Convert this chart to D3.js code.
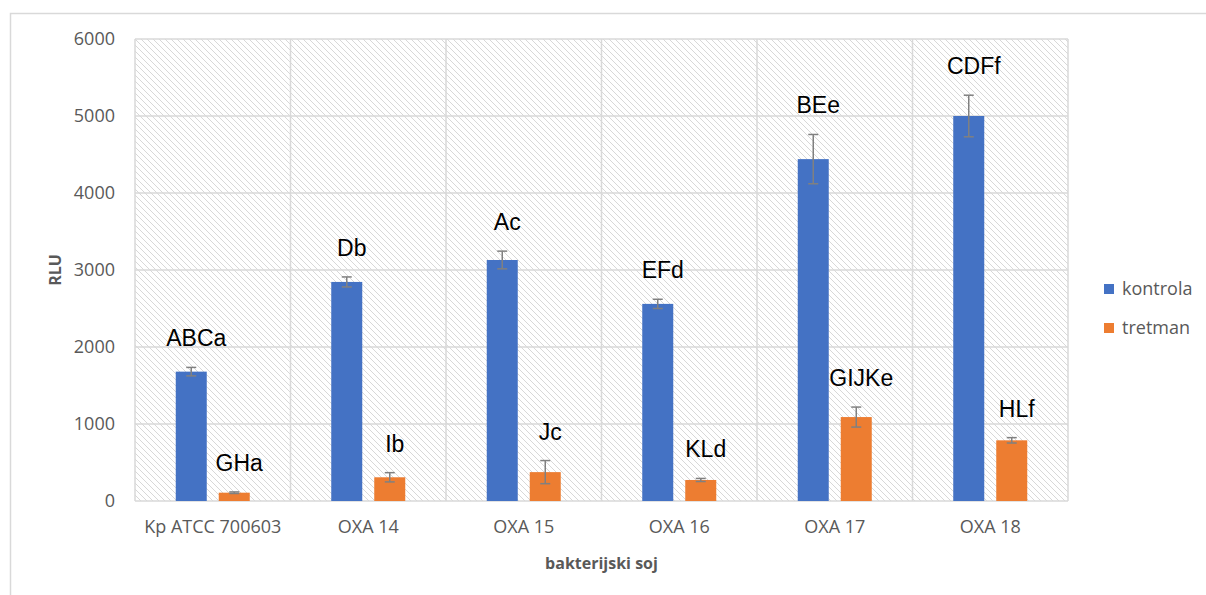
<!DOCTYPE html>
<html><head><meta charset="utf-8">
<script src="https://cdn.jsdelivr.net/npm/d3@7"></script>
<style>body{margin:0;background:#fff}svg{display:block}</style>
</head><body>
<script>
const categories = ["Kp ATCC 700603","OXA 14","OXA 15","OXA 16","OXA 17","OXA 18"];
const seriesNames = ["kontrola","tretman"];
const kontrola = [1680, 2845, 3130, 2560, 4440, 5000];
const kontrolaErr = [55, 65, 115, 60, 320, 270];
const tretman = [108, 308, 375, 273, 1090, 788];
const tretmanErr = [10, 60, 150, 20, 130, 35];
const kontrolaLabels = ["ABCa","Db","Ac","EFd","BEe","CDFf"];
const tretmanLabels = ["GHa","Ib","Jc","KLd","GIJKe","HLf"];
const yTicks = [0,1000,2000,3000,4000,5000,6000];
const colors = ["#4472C4","#ED7D31"];

const W = 1206, H = 595;
const m = {left:135, right:1068, top:39, bottom:501};
const svg = d3.select("body").append("svg").attr("width",W).attr("height",H);

const defs = svg.append("defs");
const pat = defs.append("pattern").attr("id","hatch").attr("patternUnits","userSpaceOnUse")
  .attr("width",6).attr("height",6);
pat.append("rect").attr("width",6).attr("height",6).attr("fill","#fff");
pat.append("path").attr("d","M-1,-1 L7,7 M-1,5 L1,7 M5,-1 L7,1")
  .attr("stroke","#d4d4d4").attr("stroke-width",0.9);

// chart border
svg.append("rect").attr("x",10.5).attr("y",13.5).attr("width",1250).attr("height",700)
  .attr("fill","none").attr("stroke","#d9d9d9").attr("stroke-width",1.5);

const x0 = d3.scaleBand().domain(categories).range([m.left,m.right]).padding(0);
const y = d3.scaleLinear().domain([0,6000]).range([m.bottom,m.top]);

svg.append("rect").attr("x",m.left).attr("y",m.top).attr("width",m.right-m.left)
  .attr("height",m.bottom-m.top).attr("fill","url(#hatch)");

// gridlines
const grid = svg.append("g");
grid.selectAll("line.h").data(yTicks).join("line")
  .attr("x1",m.left).attr("x2",m.right).attr("y1",d=>y(d)).attr("y2",d=>y(d))
  .attr("stroke","#d9d9d9").attr("stroke-width",1.5);
const vlines = categories.map(c=>x0(c)).concat([m.right]);
grid.selectAll("line.v").data(vlines).join("line")
  .attr("x1",d=>d).attr("x2",d=>d).attr("y1",m.top).attr("y2",m.bottom)
  .attr("stroke","#d9d9d9").attr("stroke-width",1.5);

// y axis
const yAxis = svg.append("g").attr("transform",`translate(${m.left-20},0)`)
  .call(d3.axisLeft(y).tickValues(yTicks).tickFormat(d3.format("d")).tickSize(0).tickPadding(0));
yAxis.select(".domain").remove();
yAxis.selectAll("text").attr("font-family","'Open Sans'").attr("font-size",18).attr("fill","#595959");

// x axis
const xAxis = svg.append("g").attr("transform",`translate(0,${m.bottom})`)
  .call(d3.axisBottom(x0).tickSize(0).tickPadding(19));
xAxis.select(".domain").remove();
xAxis.selectAll("text").attr("font-family","'Open Sans'").attr("font-size",18).attr("fill","#595959");

// bars
const barW = 31, gap = 12;
const series = [
  {vals:kontrola, err:kontrolaErr, labels:kontrolaLabels, off:-(gap/2+barW/2)},
  {vals:tretman, err:tretmanErr, labels:tretmanLabels, off:(gap/2+barW/2)}
];
series.forEach((s,si)=>{
  const g = svg.append("g");
  const cx = i => x0(categories[i]) + x0.bandwidth()/2 + s.off;
  g.selectAll("rect").data(s.vals).join("rect")
    .attr("x",(d,i)=>cx(i)-barW/2).attr("width",barW)
    .attr("y",d=>y(d)).attr("height",d=>y(0)-y(d)).attr("fill",colors[si]);
  const eb = g.selectAll("g.eb").data(s.vals).join("g");
  eb.append("line").attr("x1",(d,i)=>cx(i)).attr("x2",(d,i)=>cx(i))
    .attr("y1",(d,i)=>y(d+s.err[i])).attr("y2",(d,i)=>y(d-s.err[i]))
    .attr("stroke","#808080").attr("stroke-width",1.5);
  [1,-1].forEach(sg=>{
    eb.append("line").attr("x1",(d,i)=>cx(i)-5).attr("x2",(d,i)=>cx(i)+5)
      .attr("y1",(d,i)=>y(d+sg*s.err[i])).attr("y2",(d,i)=>y(d+sg*s.err[i]))
      .attr("stroke","#808080").attr("stroke-width",1.5);
  });
  g.selectAll("text").data(s.labels).join("text")
    .attr("x",(d,i)=>cx(i)+5).attr("y",(d,i)=>y(s.vals[i]+s.err[i])-21)
    .attr("text-anchor","middle").attr("font-family","'Liberation Sans',Arial")
    .attr("font-size",23).attr("fill","#000").text(d=>d);
});

// axis titles
svg.append("text").attr("x",(m.left+m.right)/2).attr("y",569).attr("text-anchor","middle")
  .attr("font-family","'Open Sans'").attr("font-weight","bold").attr("font-size",16)
  .attr("fill","#595959").text("bakterijski soj");
svg.append("text").attr("transform",`translate(61,270) rotate(-90)`).attr("text-anchor","middle")
  .attr("font-family","'Open Sans'").attr("font-weight","bold").attr("font-size",16)
  .attr("fill","#595959").text("RLU");

// legend
const leg = svg.append("g");
seriesNames.forEach((n,i)=>{
  const ly = 289 + i*39;
  leg.append("rect").attr("x",1104).attr("y",ly-5).attr("width",10).attr("height",10).attr("fill",colors[i]);
  leg.append("text").attr("x",1122).attr("y",ly+6).attr("font-family","'Open Sans'")
    .attr("font-size",18).attr("fill","#595959").text(n);
});
</script>
</body></html>
